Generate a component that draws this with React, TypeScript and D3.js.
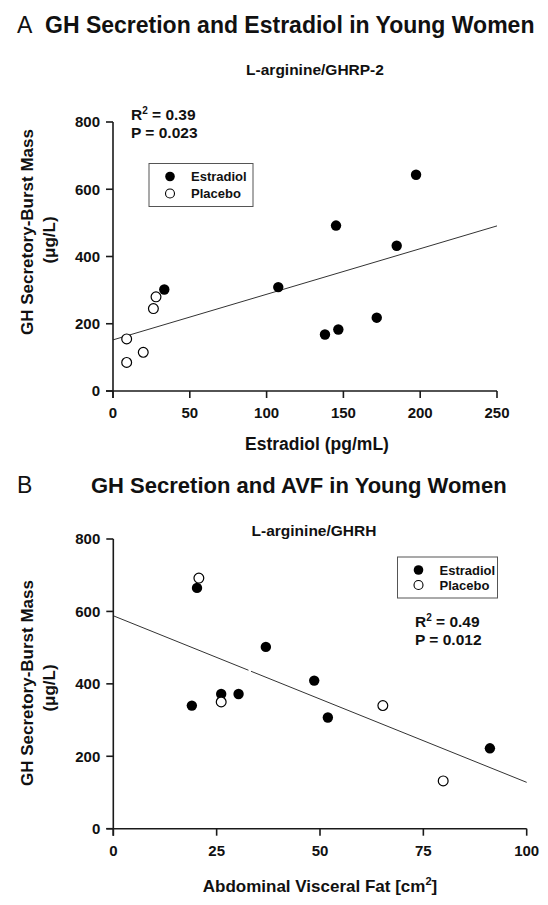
import React from "react";
import * as d3 from "d3";

// ---------- Panel A data ----------
const aEstradiolX = [33.4, 107.6, 138, 145.2, 146.7, 171.7, 184.7, 197.3];
const aEstradiolY = [302, 309, 168, 492, 183, 218, 432, 643];
const aPlaceboX = [8.9, 8.9, 19.7, 26.3, 28];
const aPlaceboY = [155, 85, 115, 245, 280];
const aFitX = [0, 250];
const aFitY = [152, 491];
const aXTicks = [0, 50, 100, 150, 200, 250];

// ---------- Panel B data ----------
const bEstradiolX = [19.0, 20.25, 26.1, 30.3, 36.9, 48.6, 51.9, 91.1];
const bEstradiolY = [340, 665, 372, 372, 502, 409, 307, 222];
const bPlaceboX = [20.7, 26.1, 65.2, 79.8];
const bPlaceboY = [692, 350, 340, 132];
const bFitX = [0, 100];
const bFitY = [588, 128];
const bXTicks = [0, 25, 50, 75, 100];

const yTicks = [0, 200, 400, 600, 800];

const FONT = "'Liberation Sans', Arial, Helvetica, sans-serif";

type PanelProps = {
  xs: d3.ScaleLinear<number, number>;
  ys: d3.ScaleLinear<number, number>;
  xTicks: number[];
  estX: number[];
  estY: number[];
  plaX: number[];
  plaY: number[];
  fitX: number[];
  fitY: number[];
  fitGap?: [number, number];
};

function Panel({ xs, ys, xTicks, estX, estY, plaX, plaY, fitX, fitY, fitGap }: PanelProps) {
  const x0 = xs.range()[0];
  const y0 = ys.range()[0];
  const axisColor = "#1a1a1a";
  const fitFn = d3.scaleLinear().domain(fitX).range(fitY);
  const line = d3
    .line<number>()
    .x((d) => xs(d))
    .y((d) => ys(fitFn(d)));
  const segments: number[][] = fitGap
    ? [
        [fitX[0], fitGap[0]],
        [fitGap[1], fitX[1]],
      ]
    : [fitX];
  return (
    <g>
      {segments.map((s, i) => (
        <path key={i} d={line(s) || ""} stroke="#333" strokeWidth={1} fill="none" />
      ))}
      <line x1={x0} x2={x0} y1={ys(800)} y2={y0 + 7} stroke={axisColor} strokeWidth={1.6} />
      {yTicks.map((t) => (
        <g key={"y" + t}>
          <line x1={x0 - 7} x2={x0} y1={ys(t)} y2={ys(t)} stroke={axisColor} strokeWidth={1.6} />
          <text
            x={x0 - 13}
            y={ys(t) + 5.3}
            textAnchor="end"
            fontSize={15}
            fontWeight="bold"
            fontFamily={FONT}
            fill="#111"
          >
            {t}
          </text>
        </g>
      ))}
      <line x1={x0 - 7} x2={xs(xs.domain()[1])} y1={y0} y2={y0} stroke={axisColor} strokeWidth={1.6} />
      {xTicks.map((t) => (
        <g key={"x" + t}>
          <line x1={xs(t)} x2={xs(t)} y1={y0} y2={y0 + 7} stroke={axisColor} strokeWidth={1.6} />
          <text
            x={xs(t)}
            y={y0 + 27}
            textAnchor="middle"
            fontSize={15}
            fontWeight="bold"
            fontFamily={FONT}
            fill="#111"
          >
            {t}
          </text>
        </g>
      ))}
      {estX.map((v, i) => (
        <circle key={"e" + i} cx={xs(v)} cy={ys(estY[i])} r={5.2} fill="#000" />
      ))}
      {plaX.map((v, i) => (
        <circle
          key={"p" + i}
          cx={xs(v)}
          cy={ys(plaY[i])}
          r={4.9}
          fill="#fff"
          stroke="#000"
          strokeWidth={1.2}
        />
      ))}
    </g>
  );
}

function Legend({ x, y, w, h, rowGap }: { x: number; y: number; w: number; h: number; rowGap: number }) {
  const cy1 = y + (h - rowGap) / 2;
  const cy2 = cy1 + rowGap;
  return (
    <g>
      <rect x={x} y={y} width={w} height={h} fill="#fff" stroke="#555" strokeWidth={1} />
      <circle cx={x + 21} cy={cy1} r={4.8} fill="#000" />
      <circle cx={x + 21} cy={cy2} r={4.5} fill="#fff" stroke="#000" strokeWidth={1.1} />
      <text x={x + 42} y={cy1 + 4.5} fontSize={13} fontWeight="bold" fontFamily={FONT} fill="#111">
        Estradiol
      </text>
      <text x={x + 42} y={cy2 + 4.5} fontSize={13} fontWeight="bold" fontFamily={FONT} fill="#111">
        Placebo
      </text>
    </g>
  );
}

function Stats({ x, y, r2, p }: { x: number; y: number; r2: string; p: string }) {
  return (
    <g fontSize={15.5} fontWeight="bold" fontFamily={FONT} fill="#111">
      <text x={x} y={y}>
        R<tspan fontSize={10} dy={-6}>2</tspan>
        <tspan dy={6}>{" = " + r2}</tspan>
      </text>
      <text x={x} y={y + 18}>{"P = " + p}</text>
    </g>
  );
}

function YLabel({ cx1, cy1, cx2, cy2 }: { cx1: number; cy1: number; cx2: number; cy2: number }) {
  return (
    <g fontSize={17} fontWeight="bold" fontFamily={FONT} fill="#111" textAnchor="middle">
      <text transform={`translate(${cx1},${cy1}) rotate(-90)`}>GH Secretory-Burst Mass</text>
      <text transform={`translate(${cx2},${cy2}) rotate(-90)`}>(μg/L)</text>
    </g>
  );
}

export default function App() {
  const axA = d3.scaleLinear().domain([0, 250]).range([113, 497]);
  const ayA = d3.scaleLinear().domain([0, 800]).range([391, 122]);
  const axB = d3.scaleLinear().domain([0, 100]).range([113.3, 526.7]);
  const ayB = d3.scaleLinear().domain([0, 800]).range([828.7, 539]);

  return (
    <svg
      width={548}
      height={905}
      viewBox="0 0 548 905"
      style={{ position: "absolute", left: 0, top: 0, background: "#fff" }}
    >
      <rect x={0} y={0} width={548} height={905} fill="#fff" />

      {/* Panel A */}
      <text x={17} y={33} fontSize={23} fontFamily={FONT} fill="#111">A</text>
      <text x={45} y={33} fontSize={23} fontWeight="bold" fontFamily={FONT} fill="#111">
        GH Secretion and Estradiol in Young Women
      </text>
      <text x={315} y={75} textAnchor="middle" fontSize={15.5} fontWeight="bold" fontFamily={FONT} fill="#111">
        L-arginine/GHRP-2
      </text>
      <Panel
        xs={axA}
        ys={ayA}
        xTicks={aXTicks}
        estX={aEstradiolX}
        estY={aEstradiolY}
        plaX={aPlaceboX}
        plaY={aPlaceboY}
        fitX={aFitX}
        fitY={aFitY}
      />
      <Stats x={131} y={120} r2="0.39" p="0.023" />
      <Legend x={149} y={163.5} w={104} h={43} rowGap={17} />
      <YLabel cx1={33} cy1={232} cx2={55} cy2={240} />
      <text x={317} y={450} textAnchor="middle" fontSize={17.5} fontWeight="bold" fontFamily={FONT} fill="#111">
        Estradiol (pg/mL)
      </text>

      {/* Panel B */}
      <text x={17} y={493} fontSize={23} fontFamily={FONT} fill="#111">B</text>
      <text x={91} y={493} fontSize={22} fontWeight="bold" fontFamily={FONT} fill="#111">
        GH Secretion and AVF in Young Women
      </text>
      <text x={314} y={536} textAnchor="middle" fontSize={15.5} fontWeight="bold" fontFamily={FONT} fill="#111">
        L-arginine/GHRH
      </text>
      <Panel
        xs={axB}
        ys={ayB}
        xTicks={bXTicks}
        estX={bEstradiolX}
        estY={bEstradiolY}
        plaX={bPlaceboX}
        plaY={bPlaceboY}
        fitX={bFitX}
        fitY={bFitY}
        fitGap={[32.7, 33.3]}
      />
      <Legend x={397.5} y={557} w={100} h={41} rowGap={15} />
      <Stats x={415} y={627} r2="0.49" p="0.012" />
      <YLabel cx1={33} cy1={683} cx2={55} cy2={688} />
      <text x={320} y={892} textAnchor="middle" fontSize={17} fontWeight="bold" fontFamily={FONT} fill="#111">
        Abdominal Visceral Fat [cm<tspan fontSize={11} dy={-7}>2</tspan>
        <tspan dy={7}>]</tspan>
      </text>
    </svg>
  );
}
